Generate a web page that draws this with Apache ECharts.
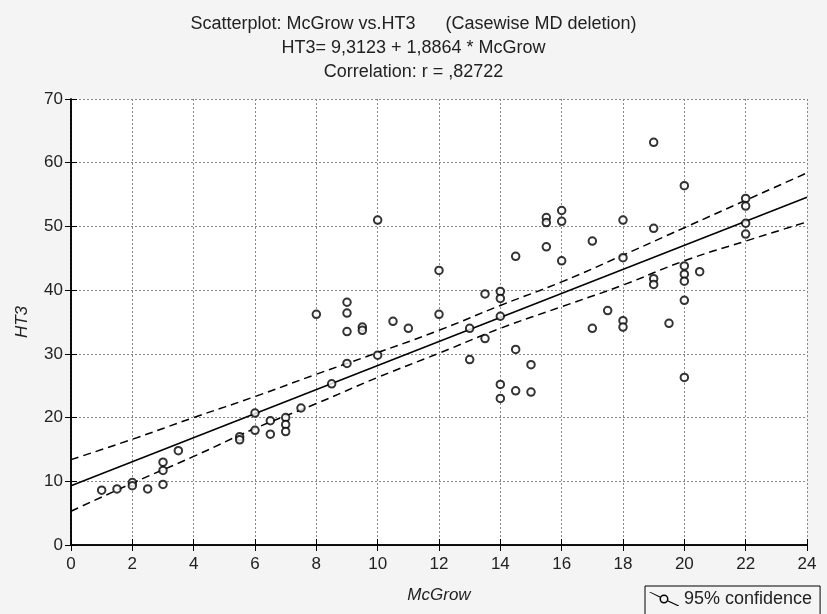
<!DOCTYPE html>
<html>
<head>
<meta charset="utf-8">
<script src="https://cdn.jsdelivr.net/npm/echarts@6/dist/echarts.min.js"></script>
<style>html,body{margin:0;padding:0;background:#f4f4f4;}#c{width:827px;height:614px;}</style>
</head>
<body>
<div id="c"></div>
<script>
// Data
const xTicks = [0, 2, 4, 6, 8, 10, 12, 14, 16, 18, 20, 22, 24];
const yTicks = [0, 10, 20, 30, 40, 50, 60, 70];
const mcGrow = [1,1.5,2,2,2.5,3,3,3,3.5,5.5,5.5,6,6,6.5,6.5,7,7,7,7.5,8,8.5,9,9,9,9,9.5,9.5,10,10,10.5,11,12,12,13,13,13.5,13.5,14,14,14,14,14,14.5,14.5,14.5,15,15,15.5,15.5,15.5,16,16,16,17,17,17.5,18,18,18,18,19,19,19,19,19.5,20,20,20,20,20,20,20.5,22,22,22,22];
const ht3 = [8.6,8.8,9.8,9.3,8.8,13.0,11.7,9.5,14.8,17.0,16.5,20.7,18.0,19.5,17.4,20.0,18.9,17.8,21.5,36.2,25.3,38.1,36.4,33.5,28.5,34.2,33.7,51.0,29.8,35.1,34.0,43.1,36.2,34.0,29.1,39.4,32.4,39.8,38.7,35.9,25.2,23.0,45.3,30.7,24.2,28.3,24.0,51.4,50.6,46.8,52.5,50.8,44.6,47.7,34.0,36.8,51.0,45.1,35.2,34.2,63.2,49.7,41.8,40.9,34.8,56.4,43.8,42.5,41.4,38.4,26.3,42.9,54.4,53.2,50.5,48.8];
const fitX = [0, 24];
const fitY = [9.31, 54.59];
const bandX = [0, 2, 4, 6, 8, 10, 12, 14, 16, 18, 20, 22, 24];
const upperY = [13.4, 16.6, 20.0, 23.3, 26.8, 30.2, 33.7, 37.6, 41.3, 45.5, 49.8, 54.1, 58.4];
const lowerY = [5.3, 9.7, 13.9, 18.3, 22.2, 26.3, 30.1, 34.0, 37.4, 40.8, 44.6, 47.7, 50.7];
const titleLines = ['Scatterplot: McGrow vs.HT3      (Casewise MD deletion)', 'HT3= 9,3123 + 1,8864 * McGrow', 'Correlation: r = ,82722'];
const legendName = '95% confidence';

const FONT = '"Liberation Sans", Arial, sans-serif';
const pts = mcGrow.map((x, i) => [x, ht3[i]]);
const zip = (a, b) => a.map((x, i) => [x, b[i]]);

const chart = echarts.init(document.getElementById('c'), null, {renderer: 'canvas'});
const axisCommon = {
  type: 'value',
  axisLine: {show: true, lineStyle: {color: '#000', width: 1.5}},
  axisTick: {show: true, inside: true, length: 6, lineStyle: {color: '#000', width: 1}},
  splitLine: {show: false}
};
chart.setOption({
  backgroundColor: '#f4f4f4',
  animation: false,
  title: {
    text: titleLines.join('\n'),
    left: 'center', top: 7,
    textStyle: {fontFamily: FONT, fontSize: 18, fontWeight: 'normal', color: '#222', lineHeight: 24}
  },
  grid: {left: 71, right: 20, top: 99, bottom: 69, show: true, backgroundColor: '#fff', borderWidth: 0},
  legend: {
    left: 645, top: 586, selectedMode: false,
    borderColor: '#000', borderWidth: 1, borderRadius: 0, padding: [4, 8, 12, 4],
    itemWidth: 30, itemHeight: 14, itemGap: 4,
    textStyle: {fontFamily: FONT, fontSize: 18, color: '#222'},
    data: [{name: legendName, icon: 'path://M0,0 L1.6,0 L11.2,4.6 L10.6,5.4 Z M19.4,8.6 L30,13.4 L30,14 L28.4,14 L18.8,9.4 Z M19.5,7 A4.5,4.5 0 1 0 10.5,7 A4.5,4.5 0 1 0 19.5,7 Z M18,7 A3,3 0 1 1 12,7 A3,3 0 1 1 18,7 Z'}]
  },
  xAxis: [
    Object.assign({}, axisCommon, {
      position: 'bottom', min: xTicks[0], max: xTicks[xTicks.length - 1], interval: 2,
      splitLine: {show: true, lineStyle: {color: '#888', type: [2, 2], width: 1}},
      axisLabel: {fontFamily: FONT, fontSize: 17, color: '#222', margin: 11},
      name: 'McGrow', nameLocation: 'middle', nameGap: 42,
      nameTextStyle: {fontFamily: FONT, fontSize: 17, fontStyle: 'italic', color: '#222'}
    }),
    Object.assign({}, axisCommon, {
      position: 'top', min: xTicks[0], max: xTicks[xTicks.length - 1], interval: 2,
      axisLabel: {show: false}
    })
  ],
  yAxis: [
    Object.assign({}, axisCommon, {
      position: 'left', min: yTicks[0], max: yTicks[yTicks.length - 1], interval: 10,
      splitLine: {show: true, lineStyle: {color: '#888', type: [2, 2], width: 1}},
      axisLabel: {fontFamily: FONT, fontSize: 17, color: '#222', margin: 8},
      name: 'HT3', nameLocation: 'middle', nameGap: 40,
      nameTextStyle: {fontFamily: FONT, fontSize: 17, fontStyle: 'italic', color: '#222'}
    }),
    Object.assign({}, axisCommon, {
      position: 'right', min: yTicks[0], max: yTicks[yTicks.length - 1], interval: 10,
      axisLabel: {show: false}
    })
  ],
  series: [
    {
      name: legendName, type: 'line', data: zip(bandX, upperY), showSymbol: false, smooth: true,
      lineStyle: {color: '#000', width: 1.5, type: [8, 5]}, itemStyle: {color: '#000'}, z: 3
    },
    {
      name: legendName, type: 'line', data: zip(bandX, lowerY), showSymbol: false, smooth: true,
      lineStyle: {color: '#000', width: 1.5, type: [8, 5]}, itemStyle: {color: '#000'}, z: 3
    },
    {
      name: 'fit', type: 'line', data: zip(fitX, fitY), showSymbol: false,
      lineStyle: {color: '#000', width: 1.5}, z: 3
    },
    {
      name: 'HT3', type: 'scatter', data: pts, symbol: 'emptyCircle', symbolSize: 7.5,
      itemStyle: {color: '#000', borderColor: '#000', borderWidth: 1.5}, z: 4
    }
  ]
});
</script>
</body>
</html>
